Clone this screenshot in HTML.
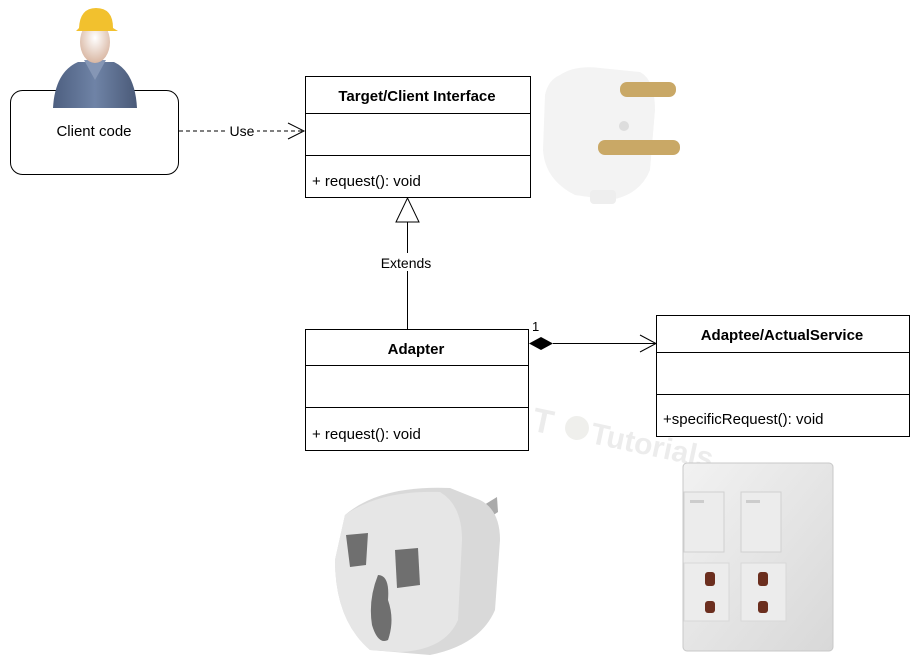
<!DOCTYPE html>
<html><head><style>body{margin:0;background:#fff}svg{display:block}text{font-family:"Liberation Sans",Arial,sans-serif}</style></head>
<body>
<svg width="919" height="664" viewBox="0 0 919 664" xmlns="http://www.w3.org/2000/svg">
<defs>
<linearGradient id="sh" x1="0" x2="1"><stop offset="0" stop-color="#4d5f80"/><stop offset=".5" stop-color="#6f83a6"/><stop offset="1" stop-color="#4a5a78"/></linearGradient>
<radialGradient id="face" cx=".5" cy=".4" r=".6"><stop offset="0" stop-color="#fff"/><stop offset="1" stop-color="#d9b7a3"/></radialGradient>
<linearGradient id="wp" x1="0" y1="0" x2="1" y2="1"><stop offset="0" stop-color="#f2f2f2"/><stop offset="1" stop-color="#d8d8d8"/></linearGradient>
</defs>
<g transform="rotate(12 600 440)" opacity=".18"><text x="530" y="445" font-size="34" font-weight="bold" fill="#999">T</text><circle cx="575" cy="433" r="12" fill="#aa9"/><text x="590" y="445" font-size="30" font-weight="bold" fill="#999">Tutorials</text><text x="728" y="445" font-size="9" fill="#999">.com</text></g>
<rect x="10.5" y="90.5" width="168" height="84" rx="12" fill="#fff" stroke="#000"/>
<path d="M53 108 Q55 72 78 62 L114 62 Q135 72 137 108 Z" fill="url(#sh)"/>
<path d="M84 60 L95 80 L106 60" fill="#8596b5"/>
<ellipse cx="95" cy="42" rx="15" ry="21" fill="url(#face)"/>
<path d="M79 28 Q80 8 96 8 Q113 8 113 28 L118 31 L76 31 Z" fill="#f2c12e"/>
<text x="94" y="136" font-size="15" text-anchor="middle">Client code</text>
<line x1="179" y1="131" x2="304" y2="131" stroke="#000" stroke-dasharray="4,3"/>
<path d="M288 123 L304 131 L288 139" fill="none" stroke="#000"/>
<rect x="227" y="123" width="30" height="14" fill="#fff"/>
<text x="242" y="136" font-size="14" text-anchor="middle">Use</text>
<rect x="305.5" y="76.5" width="225" height="121" fill="#fff" stroke="#000"/>
<line x1="305" y1="113.5" x2="530" y2="113.5" stroke="#000"/>
<line x1="305" y1="155.5" x2="530" y2="155.5" stroke="#000"/>
<text x="417" y="101" font-size="15" font-weight="bold" text-anchor="middle">Target/Client Interface</text>
<text x="312" y="186" font-size="15">+ request(): void</text>
<line x1="407.5" y1="222" x2="407.5" y2="329" stroke="#000"/>
<path d="M396 222 L407.5 198 L419 222 Z" fill="#fff" stroke="#000"/>
<rect x="374" y="253" width="64" height="18" fill="#fff"/>
<text x="406" y="268" font-size="14" text-anchor="middle">Extends</text>
<rect x="305.5" y="329.5" width="223" height="121" fill="#fff" stroke="#000"/>
<line x1="305" y1="365.5" x2="528" y2="365.5" stroke="#000"/>
<line x1="305" y1="407.5" x2="528" y2="407.5" stroke="#000"/>
<text x="416" y="354" font-size="15" font-weight="bold" text-anchor="middle">Adapter</text>
<text x="312" y="439" font-size="15">+ request(): void</text>
<line x1="553" y1="343.5" x2="656" y2="343.5" stroke="#000"/>
<path d="M529 343.5 L541 337 L553 343.5 L541 350 Z" fill="#000"/>
<path d="M640 335 L656 343.5 L640 352" fill="none" stroke="#000"/>
<text x="532" y="331" font-size="13">1</text>
<rect x="656.5" y="315.5" width="253" height="121" fill="#fff" stroke="#000"/>
<line x1="656" y1="352.5" x2="909" y2="352.5" stroke="#000"/>
<line x1="656" y1="394.5" x2="909" y2="394.5" stroke="#000"/>
<text x="782" y="340" font-size="15" font-weight="bold" text-anchor="middle">Adaptee/ActualService</text>
<text x="663" y="424" font-size="15">+specificRequest(): void</text>
<path d="M560 75 Q575 65 600 68 L640 72 Q655 80 655 110 L650 170 Q640 195 610 200 L575 195 Q545 180 543 150 L545 95 Q548 80 560 75 Z" fill="#f3f3f3"/>
<rect x="590" y="190" width="26" height="14" rx="4" fill="#eee"/>
<circle cx="624" cy="126" r="5" fill="#ddd"/>
<rect x="620" y="82" width="56" height="15" rx="7" fill="#c9a866"/>
<rect x="598" y="140" width="82" height="15" rx="7" fill="#c9a866"/>
<path d="M430 494 L440 490 L440 505 L430 509 Z" fill="#aaa"/>
<path d="M484 505 L497 497 L498 512 L486 520 Z" fill="#aaa"/>
<path d="M345 515 Q380 485 450 488 L480 500 Q500 510 500 540 L495 610 Q480 645 430 655 L370 650 Q335 620 335 560 Z" fill="#d9d9d9"/>
<path d="M345 515 Q380 490 440 492 Q462 505 462 540 L458 620 Q445 650 400 652 L370 650 Q335 620 335 560 Z" fill="#e6e6e6"/>
<path d="M346 535 L368 533 L366 565 L350 567 Z" fill="#6f6f6f"/>
<path d="M395 550 L418 548 L420 585 L397 588 Z" fill="#6f6f6f"/>
<path d="M378 575 Q390 575 388 600 Q395 620 388 640 Q378 645 372 625 Q368 600 378 575 Z" fill="#6f6f6f"/>
<rect x="683" y="463" width="150" height="188" rx="4" fill="url(#wp)" stroke="#c8c8c8"/>
<rect x="684" y="492" width="40" height="60" fill="#ececec" stroke="#d0d0d0"/>
<rect x="741" y="492" width="40" height="60" fill="#ececec" stroke="#d0d0d0"/>
<rect x="690" y="500" width="14" height="3" fill="#ccc"/><rect x="746" y="500" width="14" height="3" fill="#ccc"/>
<rect x="684" y="563" width="45" height="58" fill="#ececec" stroke="#d8d8d8"/>
<rect x="741" y="563" width="45" height="58" fill="#ececec" stroke="#d8d8d8"/>
<rect x="705" y="572" width="10" height="14" rx="3" fill="#6b2e1e"/><rect x="705" y="601" width="10" height="12" rx="3" fill="#6b2e1e"/>
<rect x="758" y="572" width="10" height="14" rx="3" fill="#6b2e1e"/><rect x="758" y="601" width="10" height="12" rx="3" fill="#6b2e1e"/>
</svg>
</body></html>
